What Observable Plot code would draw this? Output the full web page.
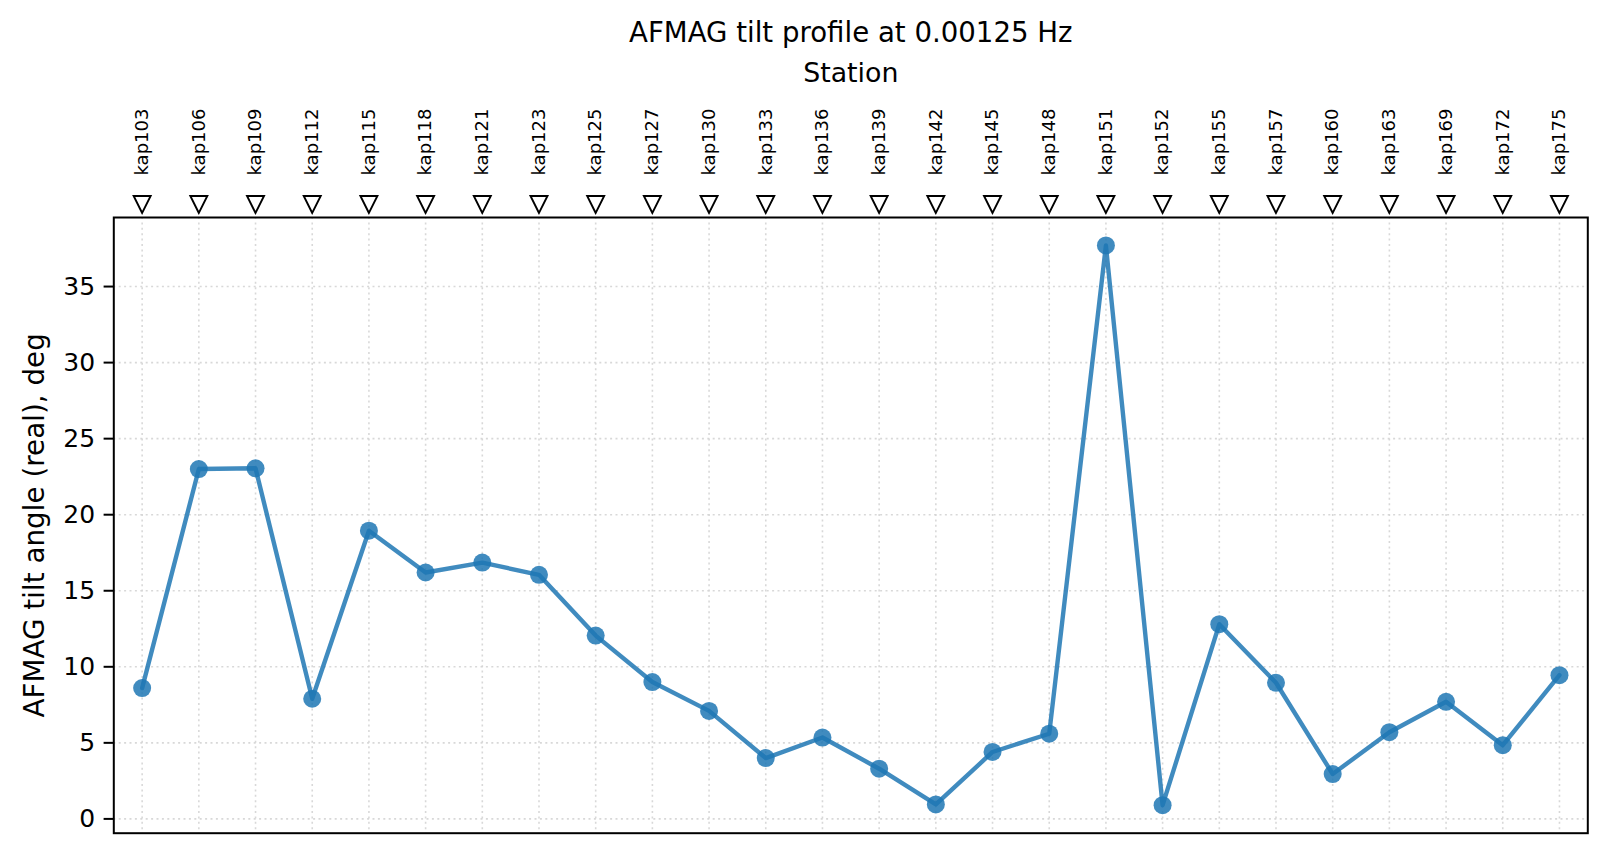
<!DOCTYPE html>
<html>
<head>
<meta charset="utf-8">
<script src="https://cdn.jsdelivr.net/npm/d3@7"></script>
<script src="https://cdn.jsdelivr.net/npm/@observablehq/plot@0.6"></script>
<style>
  html, body { margin: 0; padding: 0; background: #fff; }
  #chart svg { font-family: "DejaVu Sans", sans-serif; display: block; }
</style>
</head>
<body>
<div id="chart"></div>
<script>
const stations = ["kap103","kap106","kap109","kap112","kap115","kap118","kap121","kap123","kap125","kap127","kap130","kap133","kap136","kap139","kap142","kap145","kap148","kap151","kap152","kap155","kap157","kap160","kap163","kap169","kap172","kap175"];
const tiltDeg = [8.6, 23.0, 23.05, 7.9, 18.95, 16.2, 16.85, 16.05, 12.05, 9.0, 7.1, 4.0, 5.35, 3.3, 0.95, 4.4, 5.6, 37.7, 0.9, 12.8, 8.95, 2.95, 5.7, 7.7, 4.85, 9.45];
const yTicks = [0, 5, 10, 15, 20, 25, 30, 35];
const titleText = "AFMAG tilt profile at 0.00125 Hz";
const xLabelText = "Station";
const yLabelText = "AFMAG tilt angle (real), deg";

const data = stations.map((s, i) => ({station: s, idx: i, tilt: tiltDeg[i]}));

const [ymin, ymax] = d3.extent(tiltDeg);
const pad = (ymax - ymin) * 0.05;

const triDown = {
  draw(context, size) {
    const r = Math.sqrt(size / Math.PI);
    context.moveTo(0, r);
    context.lineTo(-r, -r);
    context.lineTo(r, -r);
    context.closePath();
  }
};

const blue = "#1f77b4";

const chart = Plot.plot({
  width: 1606,
  height: 855,
  marginLeft: 113.3,
  marginRight: 18.7,
  marginTop: 217,
  marginBottom: 22.3,
  x: {domain: [-0.5, stations.length - 0.5], axis: null},
  y: {domain: [ymin - pad, ymax + pad], axis: null},
  marks: [
    Plot.ruleX(data, {x: "idx", stroke: "#d4d4d4", strokeWidth: 1.6, strokeDasharray: "2,3.4", strokeOpacity: 0.9}),
    Plot.ruleY(yTicks, {stroke: "#d4d4d4", strokeWidth: 1.6, strokeDasharray: "2,3.4", strokeOpacity: 0.9}),
    Plot.axisY({ticks: yTicks, tickSize: 9.7, tickPadding: 9, fontSize: 25, label: null, strokeWidth: 2, tickFormat: d => String(d)}),
    Plot.text([yLabelText], {frameAnchor: "left", rotate: -90, dx: -70, textAnchor: "middle", lineAnchor: "bottom", fontSize: 27.8, fill: "black"}),
    Plot.line(data, {x: "idx", y: "tilt", stroke: blue, strokeWidth: 4.4, strokeOpacity: 0.85}),
    Plot.dot(data, {x: "idx", y: "tilt", r: 9, fill: blue, fillOpacity: 0.85, stroke: "none"}),
    Plot.frame({stroke: "black", strokeWidth: 2}),
    Plot.dot(data, {x: "idx", frameAnchor: "top", dy: -13, symbol: triDown, r: 8.5, fill: "none", stroke: "black", strokeWidth: 1.9}),
    Plot.text(data, {x: "idx", frameAnchor: "top", dy: -42, text: "station", rotate: -90, textAnchor: "start", lineAnchor: "middle", fontSize: 18, fill: "black"}),
    Plot.text([titleText], {frameAnchor: "top", dy: -175.3, lineAnchor: "bottom", fontSize: 27.6, fill: "black"}),
    Plot.text([xLabelText], {frameAnchor: "top", dy: -135.3, lineAnchor: "bottom", fontSize: 26.8, fill: "black"})
  ]
});
document.getElementById("chart").appendChild(chart);
</script>
</body>
</html>
